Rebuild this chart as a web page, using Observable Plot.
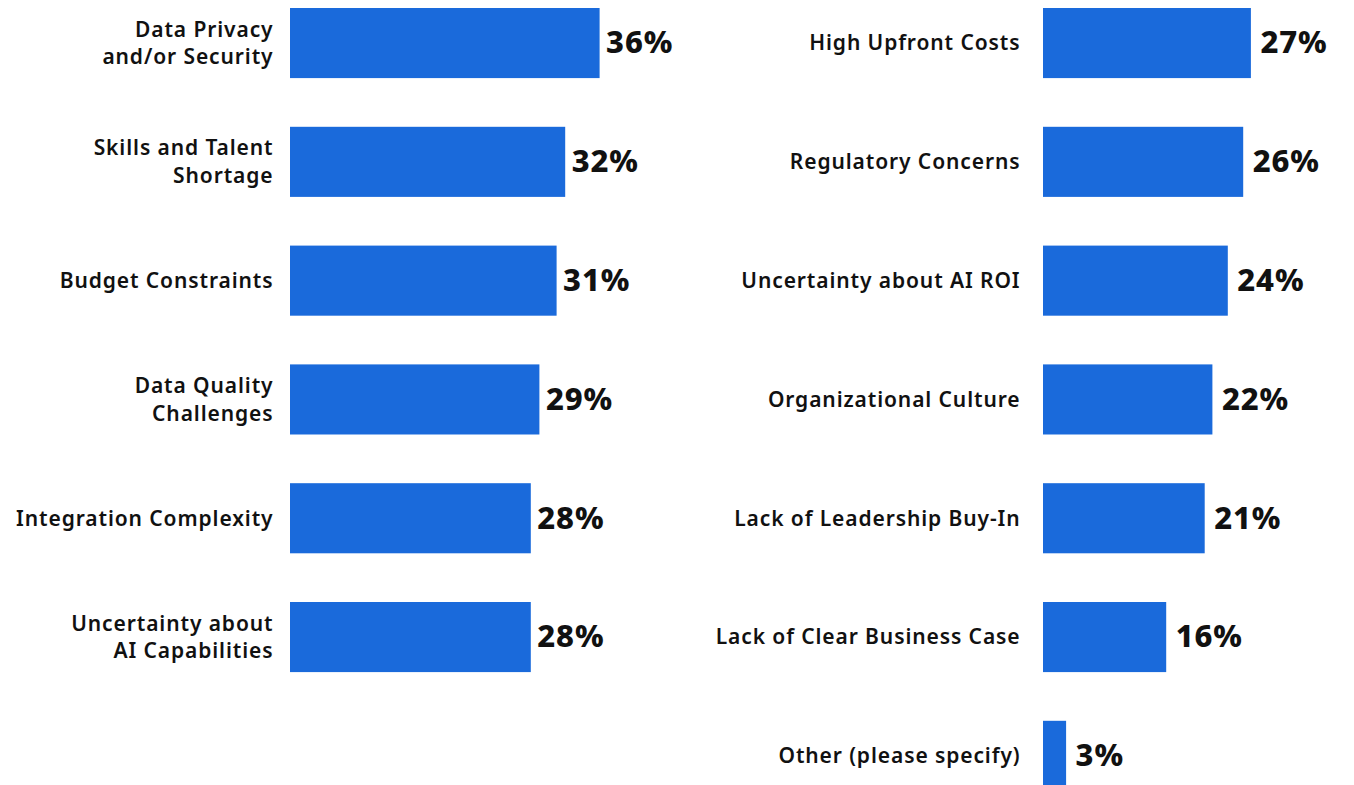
<!DOCTYPE html>
<html>
<head>
<meta charset="utf-8">
<script src="https://cdn.jsdelivr.net/npm/d3@7"></script>
<script src="https://cdn.jsdelivr.net/npm/@observablehq/plot@0.6"></script>
<style>
  html, body { margin: 0; padding: 0; background: #fff; }
  #wrap { position: relative; width: 1354px; height: 785px; overflow: hidden; font-family: "Noto Sans", sans-serif; }
  #left, #right { position: absolute; top: 0; }
  #left { left: 0; }
  #right { left: 677px; }
  svg text { letter-spacing: 0.9px; }
</style>
</head>
<body>
<div id="wrap"><div id="left"></div><div id="right"></div></div>
<script>
const leftCategories = [
  "Data Privacy\nand/or Security",
  "Skills and Talent\nShortage",
  "Budget Constraints",
  "Data Quality\nChallenges",
  "Integration Complexity",
  "Uncertainty about\nAI Capabilities"
];
const leftValues = [36, 32, 31, 29, 28, 28];

const rightCategories = [
  "High Upfront Costs",
  "Regulatory Concerns",
  "Uncertainty about AI ROI",
  "Organizational Culture",
  "Lack of Leadership Buy-In",
  "Lack of Clear Business Case",
  "Other (please specify)"
];
const rightValues = [27, 26, 24, 22, 21, 16, 3];

const barColor = "#1a6adb";
const step = 118.8;
const padInner = 0.41;

function chart(categories, values, opts) {
  const data = categories.map((c, i) => ({cat: c, v: values[i]}));
  const n = categories.length;
  return Plot.plot({
    width: 677,
    height: 785,
    marginTop: 0, marginBottom: 0, marginRight: 0, marginLeft: opts.marginLeft,
    style: {fontFamily: "'Noto Sans', sans-serif", background: "transparent", overflow: "visible"},
    x: {domain: [0, 40], range: [opts.marginLeft, opts.marginLeft + 40 * opts.k], axis: null},
    y: {domain: categories, range: [8, 8 + step * (n - padInner)], paddingInner: padInner, paddingOuter: 0, align: 0, round: false, label: null},
    marks: [
      Plot.barX(data, {x: "v", y: "cat", fill: barColor}),
      Plot.axisY({tickSize: 0, tickPadding: opts.tickPadding, dy: -2, fontSize: 21, fontWeight: 600, lineHeight: 1.33, fill: "#111", label: null}),
      Plot.text(data, {x: "v", y: "cat", text: d => d.v + "%", textAnchor: "start", dx: opts.dx, fontSize: 31, fontWeight: 800, fill: "#111"})
    ]
  });
}

document.getElementById("left").append(chart(leftCategories, leftValues, {marginLeft: 290, k: 8.6, tickPadding: 17, dx: 6}));
document.getElementById("right").append(chart(rightCategories, rightValues, {marginLeft: 366, k: 7.7, tickPadding: 23, dx: 9}));
</script>
</body>
</html>
